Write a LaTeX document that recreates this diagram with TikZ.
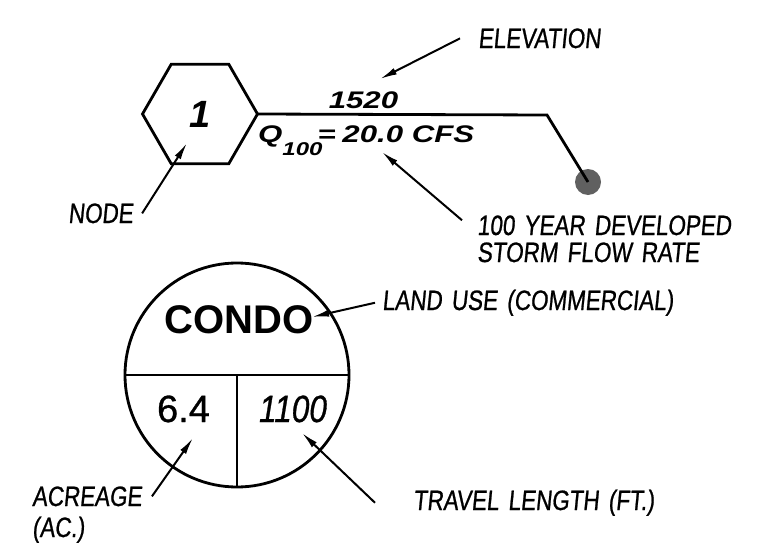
\documentclass[tikz,border=0pt]{standalone}
\usepackage{fontspec}
\setmainfont{Liberation Sans}
\newfontfamily\cadfont[FakeStretch=0.8,FakeSlant=0.1,FakeBold=0.8,WordSpace=1.5]{Liberation Sans}
\newfontfamily\widefont[FakeStretch=1.3]{Liberation Sans}
\newfontfamily\narrowfont[FakeStretch=0.83,FakeBold=0.8]{Liberation Sans}
\newfontfamily\heavyfont[FakeBold=0.8]{Liberation Sans}
\usetikzlibrary{arrows.meta,shapes.geometric}
\definecolor{dotgray}{RGB}{96,96,96}
\begin{document}
\begin{tikzpicture}[x=1pt, y=-1pt, >={Latex[length=17pt,width=7pt]},
  cad/.style={font=\cadfont\fontsize{28}{30}\selectfont, anchor=base west, inner sep=0},
  callout/.style={->, line width=2pt},
  heavy/.style={line width=2.8pt}]
\useasboundingbox (0,0) rectangle (760,554);
% node symbol and outfall
\node[draw, heavy, regular polygon, regular polygon sides=6, minimum size=115pt, inner sep=0, outer sep=0,
  font=\bfseries\itshape\fontsize{38}{40}\selectfont] (hex) at (200,114) {1};
\node[circle, fill=dotgray, minimum size=26pt, inner sep=0] (outlet) at (588,182) {};
\coordinate (bend) at (547,115);
\draw[heavy] (hex.east) -- (bend) -- (outlet.center);
\node[font=\widefont\bfseries\itshape\fontsize{24}{26}\selectfont, inner sep=0, anchor=base] (elevval) at (363.5,108) {1520};
\node[font=\widefont\bfseries\itshape\fontsize{24}{26}\selectfont, inner sep=0, anchor=base west] (flow) at (258,142)
  {Q\raisebox{-13pt}{\fontsize{18.5}{20}\selectfont 100}\kern-5pt=\kern-2pt\ 20.0 CFS};
% land use circle
\node[draw, heavy, circle, minimum size=224pt, inner sep=0, outer sep=0] (lu) at (237,375) {};
\draw[heavy] (lu.west) -- (lu.east);
\draw[line width=2.4pt] (lu.center) -- (lu.south);
\node[font=\bfseries\fontsize{40}{42}\selectfont, inner sep=0, anchor=base] (use) at (239,333) {CONDO};
\node[font=\heavyfont\fontsize{38}{40}\selectfont, inner sep=0, anchor=base] (area) at (183.5,422) {6.4};
\node[font=\narrowfont\itshape\fontsize{38}{40}\selectfont, inner sep=0, anchor=base] (len) at (293,422) {1100};
% labels
\node[cad] (elev) at (478,48) {ELEVATION};
\node[cad] (storm) at (477,235) {100 YEAR DEVELOPED};
\node[cad] (rate) at (477,262) {STORM FLOW RATE};
\node[cad] (nodelbl) at (68,223) {NODE};
\node[cad] (landuse) at (382,310) {LAND USE (COMMERCIAL)};
\node[cad] (acre) at (32,506) {ACREAGE};
\node[cad] (ac) at (32,537) {(AC.)};
\node[cad] (travel) at (413,510) {TRAVEL LENGTH (FT.)};
% arrow tips
\coordinate (elevtip) at (380,79);
\coordinate (flowtip) at (382,152);
\coordinate (nodetip) at (187,143);
\coordinate (landtip) at (312,317);
\coordinate (areatip) at (193,438);
\coordinate (lentip) at (302,433);
\draw[callout] ([xshift=-18pt]elev.west) -- (elevtip);
\draw[callout] ([shift={(-15,5)}]storm.north west) -- (flowtip);
\draw[callout] ([xshift=9pt]nodelbl.east) -- (nodetip);
\draw[callout] ([xshift=-7pt]landuse.west) -- (landtip);
\draw[callout] ([xshift=10pt]acre.east) -- (areatip);
\draw[callout] ([xshift=-38pt]travel.west) -- (lentip);
\end{tikzpicture}
\end{document}
